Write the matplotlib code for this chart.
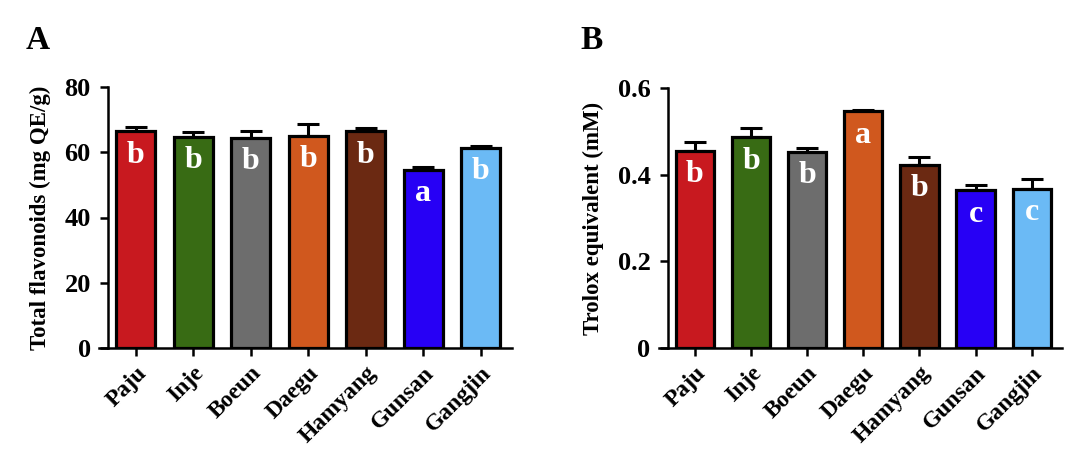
import numpy as np
import matplotlib
matplotlib.use("Agg")
import matplotlib.pyplot as plt

plt.rcParams['font.family'] = ['Liberation Serif', 'DejaVu Serif']
plt.rcParams['font.weight'] = 'bold'

sites = ['Paju', 'Inje', 'Boeun', 'Daegu', 'Hamyang', 'Gunsan', 'Gangjin']
colors = ['#C8191F', '#386B14', '#6D6D6D', '#D0581E', '#6B2912', '#2700F5', '#6BBAF5']

flavonoids = [66.4, 64.7, 64.5, 65.0, 66.4, 54.5, 61.3]
flavonoids_err = [1.4, 1.5, 1.9, 3.8, 1.0, 1.0, 0.7]
flavonoids_grp = ['b', 'b', 'b', 'b', 'b', 'a', 'b']

trolox = [0.455, 0.486, 0.452, 0.546, 0.422, 0.364, 0.368]
trolox_err = [0.021, 0.021, 0.009, 0.004, 0.018, 0.012, 0.021]
trolox_grp = ['b', 'b', 'b', 'a', 'b', 'c', 'c']


def draw_panel(ax, values, errs, groups, ylabel, yticks, ticklabels, ymax):
    x = np.arange(len(sites))
    ax.bar(x, values, width=0.68, color=colors, edgecolor='black', linewidth=2.3, zorder=2)
    lo = np.zeros(len(errs))
    ax.errorbar(x, values, yerr=[lo, errs], fmt='none', ecolor='black',
                elinewidth=2.2, capsize=8, capthick=2.2, zorder=1)
    for xi, v, g in zip(x, values, groups):
        ax.annotate(g, (xi, v), xytext=(0, -22.5), textcoords='offset points',
                    ha='center', va='baseline', color='white',
                    fontsize=23, fontweight='bold')
    ax.set_xlim(-0.64, 6.54)
    ax.set_ylim(0, ymax)
    ax.spines['top'].set_visible(False)
    ax.spines['right'].set_visible(False)
    ax.spines['left'].set_position(('data', -0.48))
    ax.spines['left'].set_bounds(0, ymax)
    for s in ['left', 'bottom']:
        ax.spines[s].set_linewidth(1.8)
    ax.set_yticks(yticks)
    ax.set_yticklabels(ticklabels, fontsize=19, fontweight='bold')
    ax.set_xticks(x)
    ax.set_xticklabels(sites, rotation=45, ha='right', rotation_mode='anchor',
                       fontsize=17, fontweight='bold')
    ax.tick_params(axis='both', width=1.8, length=5.5)
    ax.tick_params(axis='x', pad=5)
    ax.tick_params(axis='y', pad=7)
    ax.set_ylabel(ylabel, fontsize=16.5, fontweight='bold', labelpad=10)


fig = plt.figure(figsize=(10.86, 4.49), dpi=100)
ax1 = fig.add_axes([99 / 1086, 1 - 348 / 449, 413 / 1086, 261 / 449])
ax2 = fig.add_axes([659 / 1086, 1 - 348 / 449, 403 / 1086, 260 / 449])

draw_panel(ax1, flavonoids, flavonoids_err, flavonoids_grp,
           'Total flavonoids (mg QE/g)', [0, 20, 40, 60, 80],
           ['0', '20', '40', '60', '80'], 80)
draw_panel(ax2, trolox, trolox_err, trolox_grp,
           'Trolox equivalent (mM)', [0, 0.2, 0.4, 0.6],
           ['0', '0.2', '0.4', '0.6'], 0.6)

fig.text(26 / 1086, 1 - 49 / 449, 'A', fontsize=24, fontweight='bold')
fig.text(580 / 1086, 1 - 49 / 449, 'B', fontsize=24, fontweight='bold')

fig.savefig('out.png', dpi=100)
